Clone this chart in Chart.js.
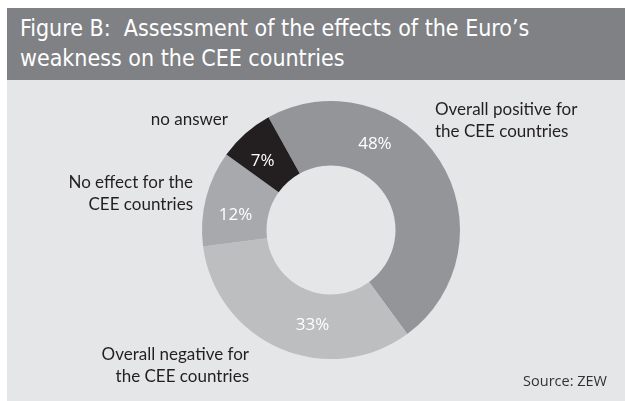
<!DOCTYPE html>
<html>
<head>
<meta charset="utf-8">
<script src="https://cdn.jsdelivr.net/npm/chart.js"></script>
<style>
  body { margin: 0; width: 625px; height: 401px; background: #fff; position: relative; overflow: hidden; }
  #title {
    position: absolute; left: 7px; top: 8px; width: 618px; height: 72px;
    background: #808185; color: #fff; box-sizing: border-box; padding: 5px 0 0 13px;
    font: 23px "Liberation Sans Narrow", "DejaVu Sans Condensed", sans-serif; line-height: 30px;
  }
  #panel { position: absolute; left: 7px; top: 80px; width: 618px; height: 321px; background: #e5e6e8; }
  #donut { position: absolute; left: 0; top: 0; }
  #source {
    position: absolute; right: 18px; bottom: 11px; color: #333;
    font: 14.5px "Open Sans", sans-serif;
  }
</style>
</head>
<body>
<div id="title">Figure B:&nbsp; Assessment of the effects of the Euro’s<br>weakness on the CEE countries</div>
<div id="panel">
  <canvas id="donut" width="618" height="321"></canvas>
  <div id="source">Source: ZEW</div>
</div>
<script>
  const categories = [
    ["Overall positive for", "the CEE countries"],
    ["Overall negative for", "the CEE countries"],
    ["No effect for the", "CEE countries"],
    ["no answer"],
  ];
  const shares = [48, 33, 12, 7];
  const colors = ["#939598", "#bcbec0", "#a7a9ac", "#231f20"];

  // where the texts sit, relative to the donut centre
  const pctAngle = [27, 191, 279, 315];
  const labelSpots = [
    { dx: 104, dy: -120, align: "left" },
    { dx: -82, dy: 125, align: "right" },
    { dx: -138, dy: -47, align: "right" },
    { dx: -103, dy: -110, align: "right" },
  ];

  const donutText = {
    id: "donutText",
    afterDraw(chart) {
      const ctx = chart.ctx;
      const arcs = chart.getDatasetMeta(0).data;
      ctx.save();
      ctx.textBaseline = "middle";
      arcs.forEach((arc, i) => {
        const a = pctAngle[i] * Math.PI / 180;
        const r = (arc.innerRadius + arc.outerRadius) / 2;
        ctx.fillStyle = "#fff";
        ctx.font = "17px 'Open Sans', sans-serif";
        ctx.textAlign = "center";
        ctx.fillText(shares[i] + "%", arc.x + r * Math.sin(a), arc.y - r * Math.cos(a));

        const s = labelSpots[i];
        ctx.fillStyle = "#231f20";
        ctx.font = "17px Lato, sans-serif";
        ctx.textAlign = s.align;
        categories[i].forEach((line, k) => {
          ctx.fillText(line, arc.x + s.dx, arc.y + s.dy + k * 22);
        });
      });
      ctx.restore();
    },
  };

  new Chart(document.getElementById("donut"), {
    type: "doughnut",
    data: {
      labels: categories.map(c => c.join(" ")),
      datasets: [{
        data: shares,
        backgroundColor: colors,
        borderWidth: 0,
      }],
    },
    options: {
      responsive: false,
      animation: false,
      rotation: -29,
      cutout: "50%",
      layout: { padding: { left: 195, right: 165, top: 21, bottom: 42 } },
      plugins: { legend: { display: false }, tooltip: { enabled: false } },
    },
    plugins: [donutText],
  });
</script>
</body>
</html>
